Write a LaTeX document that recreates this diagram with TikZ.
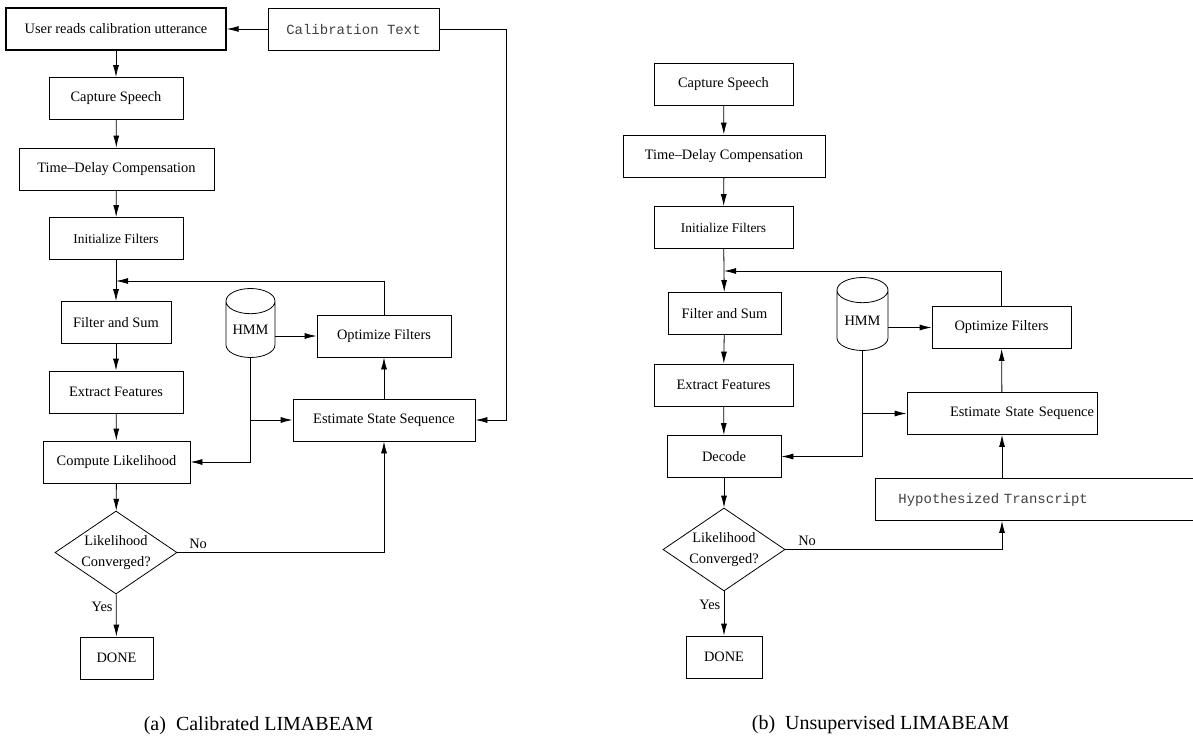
\documentclass[tikz,border=0pt]{standalone}
\usepackage{fontspec}
\setmainfont{Liberation Serif}
\setmonofont{Liberation Mono}
\usetikzlibrary{arrows.meta,shapes.geometric}
\begin{document}
\begin{tikzpicture}[x=1pt,y=-1pt,line width=0.8pt,
  font=\fontsize{14.4}{17}\selectfont,
  arr/.style={-{Latex[length=12pt,width=6pt]}},
  box/.style={draw,rectangle,minimum height=42pt,inner sep=0pt},
  txt/.style={box,font=\fontsize{14}{17}\ttfamily,text=black!75},
  decide/.style={draw,diamond,aspect=1.47,inner sep=0pt,minimum width=122pt,minimum height=83pt,
    align=center,font=\fontsize{14.4}{21}\selectfont},
  db/.style={draw,cylinder,shape border rotate=90,aspect=0.7,minimum width=49pt,minimum height=69pt,inner sep=0pt},
  subcap/.style={font=\fontsize{20}{24}\selectfont}]
\useasboundingbox (0,0) rectangle (1193,738);
% (a) calibrated
\node[box,minimum width=220pt,line width=1.4pt] (user) at (116,29) {User reads calibration utterance};
\node[txt,minimum width=171pt] (cal) at (353.5,29) {Calibration Text};
\node[box,minimum width=134pt] (cap) at (116,98.5) {Capture Speech};
\node[box,minimum width=195pt] (tdc) at (116.5,169) {Time--Delay Compensation};
\node[box,minimum width=134pt,font=\fontsize{13.4}{16}\selectfont] (init) at (116,238.5) {Initialize Filters};
\node[box,minimum width=110pt] (fs) at (116,322.5) {Filter and Sum};
\node[box,minimum width=134pt] (ef) at (116,392) {Extract Features};
\node[box,minimum width=147pt] (cl) at (116.5,462) {Compute Likelihood};
\node[decide] (conv) at (116,552.5) {Likelihood\\Converged?};
\node[box,minimum width=73pt] (done) at (116.5,658) {DONE};
\node[db] (hmm) at (250.5,329.5) {HMM};
\node[box,minimum width=134pt] (opt) at (384,336) {Optimize Filters};
\node[box,minimum width=182pt] (ess) at (384,420) {Estimate State Sequence};
\node[subcap] (capa) at (258.5,726) {(a)\hspace{0.5em}Calibrated LIMABEAM};
\coordinate (join) at (116,281);
\coordinate (calturn) at (506,420);
\draw[arr] (cal) -- (user);
\draw[arr] (user) -- (cap);
\draw[arr] (cap) -- (tdc);
\draw[arr] (tdc) -- (init);
\draw[arr] (init) -- (fs);
\draw[arr] (opt) |- (join);
\draw[arr] (fs) -- (ef);
\draw[arr] (ef) -- (cl);
\draw[arr] (cl) -- (conv);
\draw[arr] (conv) -- node[pos=0.3,left]{Yes} (done);
\draw[arr] (conv.east) -| node[pos=0.05,above]{No} (ess);
\draw[arr] (hmm.east |- opt) -- (opt);
\draw[arr] (hmm.south) |- (cl.east);
\draw[arr] (hmm.south |- ess) -- (ess);
\draw[arr] (ess) -- (opt);
\draw[arr] (cal.east) -| (calturn) -- (ess.east);
% (b) unsupervised
\node[box,minimum width=139pt] (cap2) at (723.5,84.5) {Capture Speech};
\node[box,minimum width=202pt] (tdc2) at (724,156) {Time--Delay Compensation};
\node[box,minimum width=139pt,font=\fontsize{13.4}{16}\selectfont] (init2) at (723.5,227.5) {Initialize Filters};
\node[box,minimum width=113pt] (fs2) at (724.5,313.5) {Filter and Sum};
\node[box,minimum width=139pt] (ef2) at (723.5,385) {Extract Features};
\node[box,minimum width=114pt] (dec2) at (724,456.5) {Decode};
\node[decide] (conv2) at (724,549.5) {Likelihood\\Converged?};
\node[box,minimum width=76pt] (done2) at (724,657) {DONE};
\node[db,minimum width=51pt,minimum height=73pt] (hmm2) at (862.5,320.5) {HMM};
\node[box,minimum width=139pt] (opt2) at (1001.5,327.5) {Optimize Filters};
\node[box,text width=184pt,align=right,inner xsep=3pt] (ess2) at (1002,413.5) {Estimate State Sequence};
\node[txt,text width=302pt,align=left,inner xsep=23pt,anchor=west] (hyp) at (875,499.5) {Hypothesized Transcript};
\node[subcap] (capb) at (880.5,725) {(b)\hspace{0.5em}Unsupervised LIMABEAM};
\coordinate (join2) at (724,271);
\draw[arr] (cap2) -- (tdc2);
\draw[arr] (tdc2) -- (init2);
\draw[arr] (init2) -- (fs2);
\draw[arr] (opt2) |- (join2);
\draw[arr] (fs2) -- (ef2);
\draw[arr] (ef2) -- (dec2);
\draw[arr] (dec2) -- (conv2);
\draw[arr] (conv2) -- node[pos=0.3,left]{Yes} (done2);
\draw[arr] (conv2.east) -| node[pos=0.05,above]{No} (hyp.south -| ess2);
\draw[arr] (hmm2.east |- opt2) -- (opt2);
\draw[arr] (hmm2.south) |- (dec2.east);
\draw[arr] (hmm2.south |- ess2) -- (ess2);
\draw[arr] (ess2) -- (opt2);
\draw[arr] (hyp.north -| ess2) -- (ess2);
\end{tikzpicture}
\end{document}
